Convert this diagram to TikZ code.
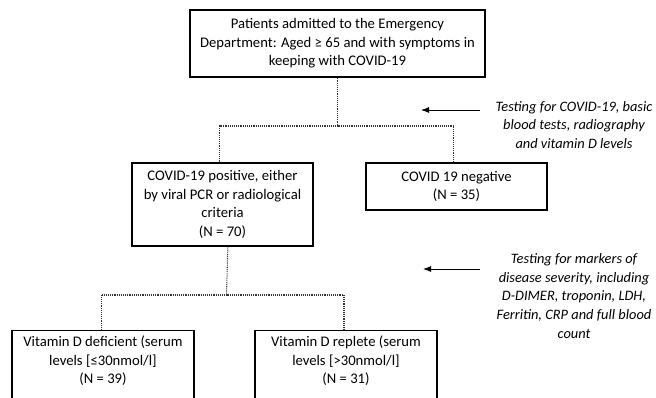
\documentclass[tikz,border=0pt]{standalone}
\usepackage{fontspec}
\setmainfont{Carlito}
\usetikzlibrary{arrows.meta}

\tikzset{
  box/.style={draw=black, line width=1pt, align=center, inner sep=2pt, font=\fontsize{11}{13.8}\selectfont},
  note/.style={align=center, inner sep=0pt, font=\fontsize{10.8}{14}\selectfont\itshape},
  link/.style={draw=black!80, line width=0.8pt, dash pattern=on 0.7pt off 0.7pt},
  pointer/.style={draw=black, line width=0.7pt, -{Latex[length=6pt,width=4.5pt]}}
}

\begin{document}
\begin{tikzpicture}[x=0.75pt,y=0.75pt,yscale=-1,xscale=1]
	\useasboundingbox (0,0) rectangle (656,397);
	\clip (0,0) rectangle (656,397);

	%Shape: Rectangle [top]
	\node[box, minimum width=221.25pt, minimum height=50.25pt] (admit) at (337.5,43.5)
		{Patients admitted to the Emergency\\Department: Aged ≥ 65 and with symptoms in\\keeping with COVID-19};
	%Shape: Rectangle [positive]
	\node[box, minimum width=135.75pt, minimum height=62.25pt] (pos) at (222.5,204.5)
		{COVID-19 positive, either\\by viral PCR or radiological\\criteria\\(N = 70)};
	%Shape: Rectangle [negative]
	\node[box, minimum width=135.75pt, minimum height=35.25pt] (neg) at (456.5,186.5)
		{COVID 19 negative\\(N = 35)};
	%Shape: Rectangle [deficient], runs off the page
	\node[box, anchor=north, minimum width=136.5pt, inner ysep=4pt] (def) at (103,330)
		{\parbox[t][70pt][t]{130pt}{\centering Vitamin D deficient (serum\\levels [≤30nmol/l]\\(N = 39)}};
	%Shape: Rectangle [replete], runs off the page
	\node[box, anchor=north, minimum width=136.5pt, inner ysep=4pt] (rep) at (346,330)
		{\parbox[t][70pt][t]{130pt}{\centering Vitamin D replete (serum\\levels [>30nmol/l]\\(N = 31)}};

	% Text Node
	\node[note] (test1) at (574,125)
		{Testing for COVID-19, basic\\blood tests, radiography\\and vitamin D levels};
	% Text Node
	\node[note] (test2) at (574,296)
		{Testing for markers of\\disease severity, including\\D-DIMER, troponin, LDH,\\Ferritin, CRP and full blood\\count};

	%Straight Lines [dotted]
	\coordinate (split1) at (337.5,126);
	\coordinate (split2) at (226.5,295);
	\draw[link] (admit.south) -- (split1);
	\draw[link] (split1) -| ([xshift=-2pt]pos.north);
	\draw[link] (split1) -| ([xshift=-2pt]neg.north);
	\draw[link] ([xshift=4pt]pos.south) -- (split2);
	\draw[link] (split2) -| ([xshift=-1pt]def.north);
	\draw[link] (split2) -| ([xshift=-1.5pt]rep.north);

	%Straight Lines [arrows]
	\coordinate (from1) at (480,110);
	\coordinate (to1) at (421,110);
	\coordinate (from2) at (480,269);
	\coordinate (to2) at (423,269);
	\draw[pointer] (from1) -- (to1);
	\draw[pointer] (from2) -- (to2);
\end{tikzpicture}
\end{document}
